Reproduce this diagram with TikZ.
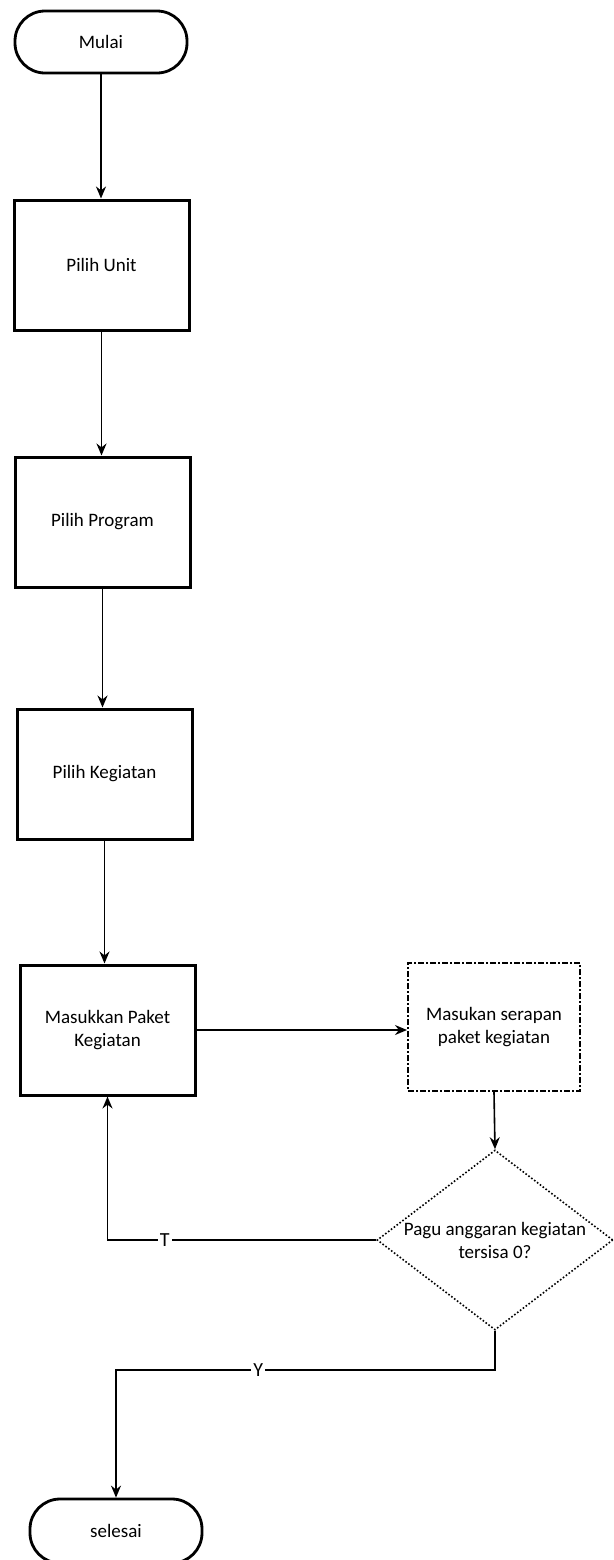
\documentclass[tikz,border=0pt]{standalone}
\usepackage{fontspec}
\setmainfont{Carlito}
\usetikzlibrary{shapes.geometric,arrows.meta}
\begin{document}
\begin{tikzpicture}[x=0.5pt,y=-0.5pt,
  every node/.style={font=\fontsize{9.5pt}{11.5pt}\selectfont, align=center},
  term/.style={draw, line width=1.4pt, rounded corners=15pt, minimum width=86pt, minimum height=31pt, inner sep=0pt},
  proc/.style={draw, line width=1.5pt, minimum width=87.5pt, minimum height=65pt, inner sep=0pt},
  proc2/.style={draw, line width=1pt, dash pattern=on 3pt off 1pt on 1pt off 1pt, minimum width=86pt, minimum height=64pt, inner sep=0pt},
  decide/.style={draw, diamond, line width=0.8pt, densely dotted, minimum width=118pt, minimum height=90pt, inner sep=0pt},
  conn/.style={draw, line width=0.8pt, -{Stealth[length=6pt,width=5pt]}},
  lab/.style={fill=white, inner sep=1pt, font=\fontsize{10pt}{12pt}\selectfont}
]
\useasboundingbox (0,0) rectangle (614,1560);
\clip (0,0) rectangle (614,1560);

\node[term] (mulai) at (101,42) {Mulai};
\node[proc] (unit) at (101.5,265) {Pilih Unit};
\node[proc] (program) at (102.5,522) {Pilih Program};
\node[proc] (kegiatan) at (104.5,774) {Pilih Kegiatan};
\node[proc] (masuk) at (107.5,1030) {Masukkan Paket\\Kegiatan};
\node[proc2] (serapan) at (494,1027) {Masukan serapan\\paket kegiatan};
\node[decide] (dec) at (495,1240) {};
\node (dectext) at (dec.center) {Pagu anggaran kegiatan\\tersisa 0?};
\node[term, minimum height=32pt] (selesai) at (116,1531) {selesai};

\coordinate (yl) at (0,1370);

\draw[conn] (mulai.south) -- (mulai.south |- unit.north);
\draw[conn] (unit.south) -- (unit.south |- program.north);
\draw[conn] (program.south) -- (program.south |- kegiatan.north);
\draw[conn] (kegiatan.south) -- (kegiatan.south |- masuk.north);
\draw[conn] (masuk.east) -- (masuk.east -| serapan.west);
\draw[conn] (serapan.south) -- (dec.north);
\draw[conn] (dec.west) -- node[lab, pos=0.787] {T} (masuk.south |- dec.west) -- (masuk.south);
\draw[conn] (dec.south) -- (dec.south |- yl) -- node[lab, pos=0.625] {Y} (selesai.north |- yl) -- (selesai.north);
\end{tikzpicture}
\end{document}
